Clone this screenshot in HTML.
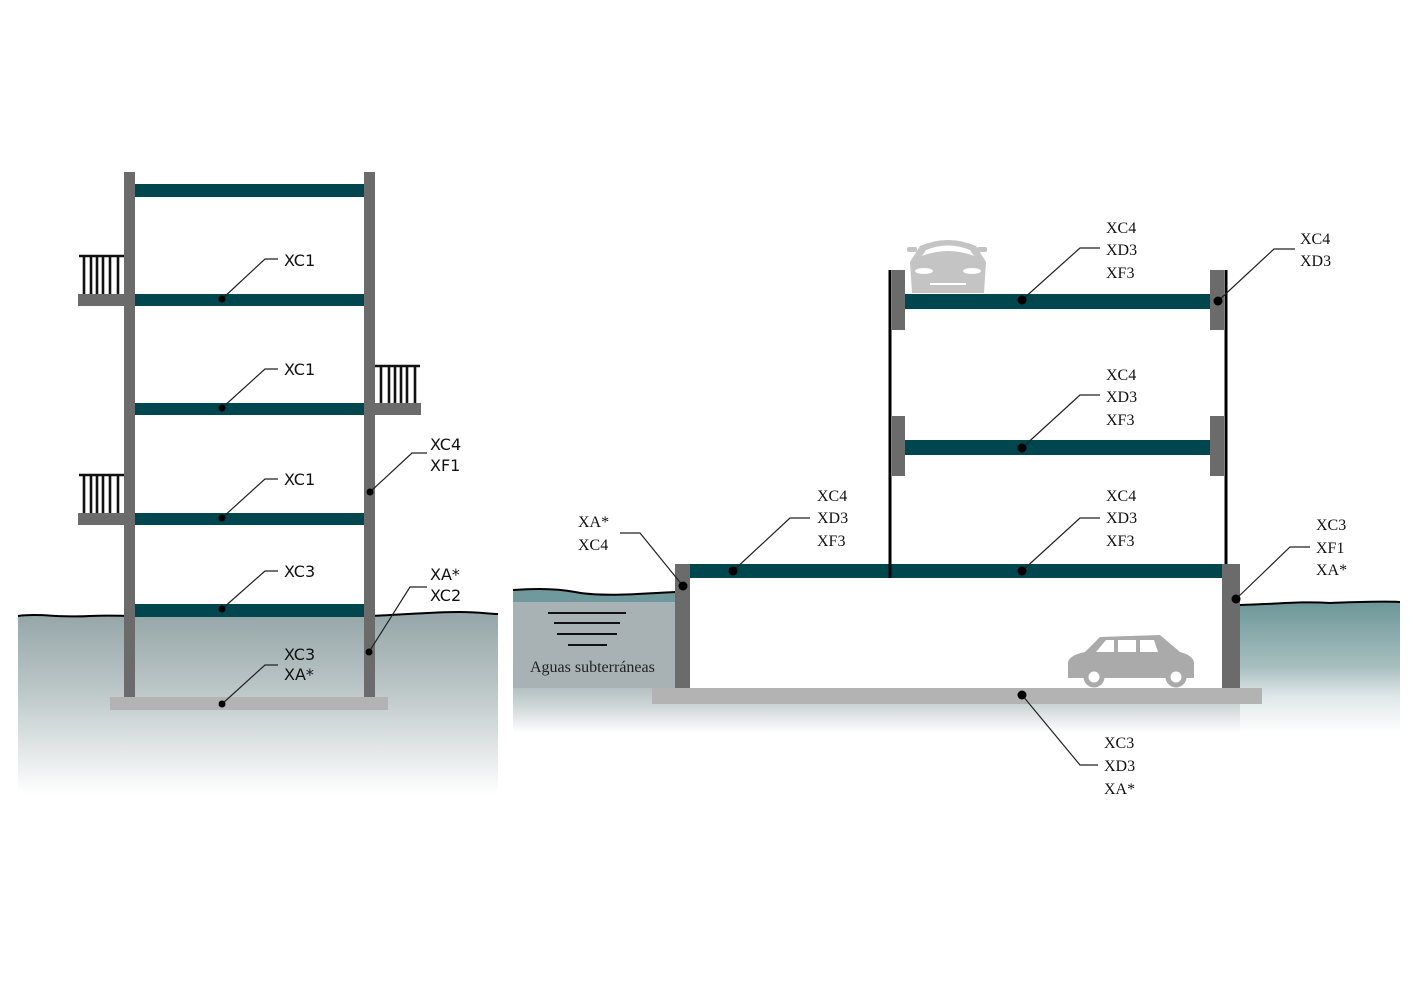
<!DOCTYPE html>
<html><head><meta charset="utf-8"><style>html,body{margin:0;padding:0;background:#fff}svg{display:block}</style></head>
<body>
<svg width="1410" height="991" viewBox="0 0 1410 991" xmlns="http://www.w3.org/2000/svg">
<defs>
<linearGradient id="g1" x1="0" y1="0" x2="0" y2="1">
<stop offset="0" stop-color="#95a6a8"/><stop offset="0.4" stop-color="#b9c4c5"/><stop offset="1" stop-color="#ffffff"/></linearGradient>
<linearGradient id="g2" x1="0" y1="0" x2="0" y2="1">
<stop offset="0" stop-color="#6c9698"/><stop offset="0.5" stop-color="#a9bfc0"/><stop offset="0.72" stop-color="#dfe7e8"/><stop offset="1" stop-color="#ffffff"/></linearGradient>
</defs>
<!-- LEFT ground -->
<path d="M18 616 C40 613 60 618 90 616 C110 615 120 616 130 616 L370 616 C400 615 430 612 460 612 C480 612 490 614 498 614 L498 795 L18 795 Z" fill="url(#g1)"/>
<path d="M18 616 C40 613 60 618 90 616 C110 615 120 616 130 616 M370 616 C400 615 430 612 460 612 C480 612 490 614 498 614" stroke="#000" stroke-width="2" fill="none"/>
<!-- left building -->
<rect x="110" y="697" width="278" height="13" fill="#b3b3b3"/>
<rect x="124" y="172" width="11" height="525" fill="#6b6b6b"/>
<rect x="364" y="172" width="11" height="525" fill="#6b6b6b"/>
<g fill="#00464f">
<rect x="135" y="184" width="229" height="13"/>
<rect x="135" y="294" width="229" height="12"/>
<rect x="135" y="403" width="229" height="12"/>
<rect x="135" y="513" width="229" height="12"/>
<rect x="135" y="604" width="229" height="13"/>
</g>
<g fill="#6b6b6b">
<rect x="78" y="294" width="46" height="12"/>
<rect x="78" y="513" width="46" height="12"/>
<rect x="375" y="403" width="46" height="12"/>
</g>
<g stroke="#111" stroke-width="2.6">
<path d="M79 256 H124 M84 256 V294 M91 256 V294 M97 256 V294 M103 256 V294 M110 256 V294 M118 256 V294"/>
<path d="M79 475 H124 M84 475 V513 M91 475 V513 M97 475 V513 M103 475 V513 M110 475 V513 M118 475 V513"/>
<path d="M375 366 H420 M381 366 V403 M389 366 V403 M395 366 V403 M401 366 V403 M407 366 V403 M415 366 V403"/>
</g>
<g stroke="#222" stroke-width="1.2" fill="none">
<path d="M222 299 L265 259 H278"/>
<path d="M222 408 L265 369 H278"/>
<path d="M222 518 L265 479 H278"/>
<path d="M222 609 L265 571 H278"/>
<path d="M222 704 L265 665 H278"/>
<path d="M370 492 L412 453 H427"/>
<path d="M369 652 L410 587 H427"/>
</g>
<g fill="#000">
<circle cx="222" cy="299" r="3.5"/><circle cx="222" cy="408" r="3.5"/><circle cx="222" cy="518" r="3.5"/><circle cx="222" cy="609" r="3.5"/><circle cx="222" cy="704" r="3.5"/><circle cx="370" cy="492" r="3.5"/><circle cx="369" cy="652" r="3.5"/>
</g>
<g font-family="'DejaVu Sans','Liberation Sans',sans-serif" font-size="16" fill="#111">
<text x="284" y="266">XC1</text><text x="284" y="375">XC1</text><text x="284" y="485">XC1</text><text x="284" y="577">XC3</text>
<text x="284" y="660">XC3</text><text x="284" y="680">XA*</text>
<text x="430" y="450">XC4</text><text x="430" y="471">XF1</text>
<text x="430" y="580">XA*</text><text x="430" y="601">XC2</text>
</g>
<!-- RIGHT ground -->
<rect x="513" y="688" width="887" height="45" fill="url(#g1)" opacity="0.7"/>
<path d="M513 590 C540 588 560 589 575 592 C600 597 640 594 675 592 L675 602 L513 602 Z" fill="#6f999c"/>
<rect x="513" y="602" width="162" height="86" fill="#a8b2b4"/>
<path d="M1240 605 C1280 604 1300 601 1330 603 C1360 602 1380 601 1400 602 L1400 733 L1240 733 Z" fill="url(#g2)"/>
<path d="M513 590 C540 588 560 589 575 592 C600 597 640 594 675 592" stroke="#000" stroke-width="2" fill="none"/>
<path d="M1240 605 C1280 604 1300 601 1330 603 C1360 602 1380 601 1400 602" stroke="#000" stroke-width="2" fill="none"/>
<g stroke="#111" stroke-width="2"><path d="M548 613 H626 M554 623 H620 M557 634 H617 M568 645 H607"/></g>
<text x="530" y="672" font-family="'Liberation Serif',serif" font-size="16" fill="#222">Aguas subterráneas</text>
<!-- right structure -->
<rect x="652" y="688" width="610" height="16" fill="#b3b3b3"/>
<rect x="675" y="564" width="15" height="124" fill="#6b6b6b"/>
<rect x="1222" y="564" width="18" height="124" fill="#6b6b6b"/>
<rect x="690" y="564" width="532" height="14" fill="#00464f"/>
<rect x="905" y="294" width="307" height="15" fill="#00464f"/>
<rect x="905" y="440" width="307" height="15" fill="#00464f"/>
<g fill="#6b6b6b">
<rect x="892" y="270" width="13" height="60"/><rect x="1210" y="270" width="14" height="60"/>
<rect x="892" y="416" width="13" height="60"/><rect x="1210" y="416" width="14" height="60"/>
</g>
<g stroke="#000" stroke-width="3"><path d="M890 270 V578 M1226 270 V564"/></g>
<!-- cars -->
<g fill="#c4c4c4">
<path d="M912 293 L910 262 L920 246 Q948 234 976 246 L986 262 L984 293 Z"/>
<rect x="907" y="247" width="10" height="5" rx="2"/><rect x="977" y="247" width="10" height="5" rx="2"/>
</g>
<g fill="#fff"><path d="M922 256 Q948 246 974 256 L970 250 Q948 241 926 250 Z"/><ellipse cx="924" cy="271" rx="9" ry="3"/><ellipse cx="972" cy="271" rx="9" ry="3"/><rect x="930" y="283" width="36" height="2"/></g>
<g fill="#aaaaaa">
<path d="M1068 678 L1068 662 Q1070 655 1085 652 L1100 637 L1160 635 L1180 652 Q1192 655 1194 662 L1194 678 Z"/>
</g>
<g fill="#fff"><path d="M1106 640 L1096 652 H1114 V640 Z M1118 640 V652 H1136 V640 Z M1140 640 V652 H1158 L1154 640 Z"/></g>
<g fill="#fff" stroke="#aaaaaa" stroke-width="5"><circle cx="1094" cy="677" r="8"/><circle cx="1176" cy="677" r="8"/></g>
<!-- leaders -->
<g stroke="#222" stroke-width="1.2" fill="none">
<path d="M1022 300 L1080 248 H1100"/>
<path d="M1218 301 L1274 249 H1295"/>
<path d="M1022 448 L1080 395 H1100"/>
<path d="M733 571 L790 518 H810"/>
<path d="M1022 571 L1080 518 H1100"/>
<path d="M683 586 L640 533 H620"/>
<path d="M1236 599 L1290 547 H1310"/>
<path d="M1022 695 L1080 765 H1098"/>
</g>
<g fill="#000">
<circle cx="1022" cy="300" r="4.5"/><circle cx="1218" cy="301" r="4.5"/><circle cx="1022" cy="448" r="4.5"/><circle cx="733" cy="571" r="4.5"/><circle cx="1022" cy="571" r="4.5"/><circle cx="683" cy="586" r="4.5"/><circle cx="1236" cy="599" r="4.5"/><circle cx="1022" cy="695" r="4.5"/>
</g>
<g font-family="'Liberation Serif',serif" font-size="16" fill="#111">
<text x="1106" y="233">XC4</text><text x="1106" y="255">XD3</text><text x="1106" y="278">XF3</text>
<text x="1300" y="244">XC4</text><text x="1300" y="266">XD3</text>
<text x="1106" y="380">XC4</text><text x="1106" y="402">XD3</text><text x="1106" y="425">XF3</text>
<text x="817" y="501">XC4</text><text x="817" y="523">XD3</text><text x="817" y="546">XF3</text>
<text x="1106" y="501">XC4</text><text x="1106" y="523">XD3</text><text x="1106" y="546">XF3</text>
<text x="578" y="527">XA*</text><text x="578" y="550">XC4</text>
<text x="1316" y="530">XC3</text><text x="1316" y="553">XF1</text><text x="1316" y="575">XA*</text>
<text x="1104" y="748">XC3</text><text x="1104" y="771">XD3</text><text x="1104" y="794">XA*</text>
</g>
</svg>
</body></html>
